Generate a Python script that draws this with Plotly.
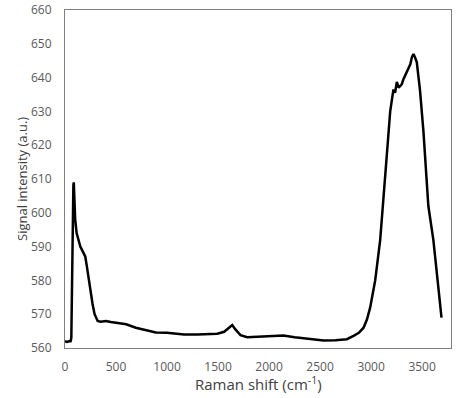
import plotly.graph_objects as go

raman_shift = [0, 20, 40, 55, 62, 68, 75, 82, 86, 92, 100, 114, 130, 150, 175, 199, 215, 238, 255, 270,
               290, 320, 350, 400, 450, 500, 600, 694, 800, 890, 1000, 1100, 1166, 1300, 1400, 1492, 1560,
               1610, 1639, 1670, 1720, 1786, 1900, 2000, 2140, 2250, 2400, 2535, 2650, 2763, 2828, 2880,
               2926, 2960, 2991, 3040, 3089, 3131, 3164, 3187, 3205, 3219, 3235, 3252, 3270, 3284, 3300,
               3317, 3340, 3366, 3385, 3399, 3415, 3430, 3448, 3465, 3480, 3513, 3529, 3561, 3610, 3659, 3690]
intensity = [562, 561.8, 562, 562, 563, 580, 600, 608, 609, 603, 598, 594, 592, 590, 588.5, 587, 584, 579,
             575, 573, 570, 568, 567.8, 568, 567.7, 567.5, 567, 566, 565.2, 564.6, 564.5, 564.3, 564, 564,
             564.2, 564.2, 564.8, 566, 566.8, 565.5, 563.8, 563.2, 563.3, 563.6, 563.7, 563.2, 562.7, 562.2,
             562.3, 562.6, 563.6, 564.5, 566, 568.5, 572, 580, 592, 607, 621, 630, 634, 636.5, 635.5, 638.7,
             637, 637.5, 638, 639.5, 641, 643, 644, 646, 647, 646, 644.5, 640, 636, 624, 617, 602, 592, 577, 569]

x_ticks = [0, 500, 1000, 1500, 2000, 2500, 3000, 3500]
y_ticks = [560, 570, 580, 590, 600, 610, 620, 630, 640, 650, 660]

fig = go.Figure()
fig.add_trace(go.Scatter(x=raman_shift, y=intensity, mode="lines",
                         line=dict(color="black", width=2.5), showlegend=False))

font_family = "Open Sans, Lato, sans-serif"
fig.update_layout(
    width=474, height=398,
    margin=dict(l=65, r=23, t=10, b=50),
    plot_bgcolor="white", paper_bgcolor="white",
    font=dict(family=font_family, color="#595959", size=12),
    xaxis=dict(range=[0, 3783], tickvals=x_ticks, showgrid=False, zeroline=False,
               showline=True, linecolor="#808080", linewidth=1, mirror=True,
               ticks="", ticklabelstandoff=8, automargin=False,
               tickfont=dict(size=12, color="#595959")),
    yaxis=dict(range=[560, 660], tickvals=y_ticks, showgrid=False, zeroline=False,
               showline=True, linecolor="#808080", linewidth=1, mirror=True,
               ticks="", ticklabelstandoff=10, automargin=False,
               tickfont=dict(size=12, color="#595959")),
    annotations=[
        dict(text="Raman shift (cm<sup>-1</sup>)", xref="paper", yref="paper",
             x=0.5, y=0, xanchor="center", yanchor="middle", yshift=-35,
             showarrow=False, font=dict(size=15, color="#404040")),
        dict(text="Signal intensity (a.u.)", xref="paper", yref="paper",
             x=0, y=0.5, xanchor="center", yanchor="middle", xshift=-43, textangle=-90,
             showarrow=False, font=dict(size=13, color="#404040")),
    ],
)

fig.write_html("out.html", config={"displayModeBar": False},
               post_script="document.body.style.margin='0';")
